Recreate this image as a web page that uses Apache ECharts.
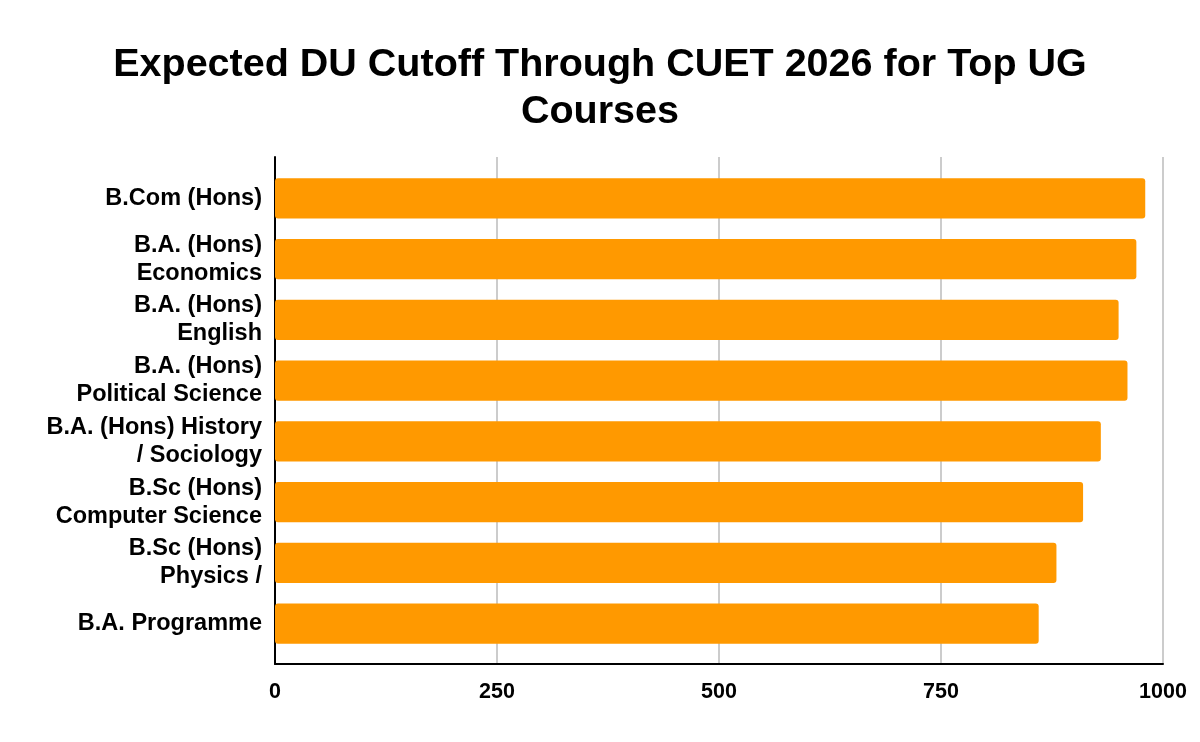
<!DOCTYPE html>
<html>
<head>
<meta charset="utf-8">
<script src="https://cdn.jsdelivr.net/npm/echarts@6/dist/echarts.min.js"></script>
<style>
  html, body { margin: 0; padding: 0; background: #fff; }
  #main { width: 1200px; height: 742px; }
</style>
</head>
<body>
<div id="main"></div>
<script>
// courses, top to bottom
const courses = [
  "B.Com (Hons)",
  "B.A. (Hons)\nEconomics",
  "B.A. (Hons)\nEnglish",
  "B.A. (Hons)\nPolitical Science",
  "B.A. (Hons) History\n/ Sociology",
  "B.Sc (Hons)\nComputer Science",
  "B.Sc (Hons)\nPhysics /",
  "B.A. Programme"
];
const cutoffs = [980, 970, 950, 960, 930, 910, 880, 860];
const xTicks = [0, 250, 500, 750, 1000];

const FONT = "Liberation Sans, Arial, sans-serif";

var chart = echarts.init(document.getElementById("main"));
var option = {
  backgroundColor: "#fff",
  animation: false,
  title: {
    text: "Expected DU Cutoff Through CUET 2026 for Top UG\nCourses",
    left: "center",
    top: 37,
    textStyle: {
      fontFamily: FONT,
      fontSize: 39.5,
      fontWeight: "bold",
      color: "#000",
      lineHeight: 47
    }
  },
  // grid 0: frame, gridlines and tick labels; grid 1: the bars, inset a little
  grid: [
    { left: 275, right: 37, top: 157, bottom: 78 },
    { left: 275, right: 37, top: 168, bottom: 88 }
  ],
  xAxis: [{
    type: "value",
    gridIndex: 0,
    min: 0,
    max: 1000,
    interval: 250,
    axisLine: { show: true, lineStyle: { color: "#000", width: 2 } },
    axisTick: { show: false },
    splitLine: { show: true, lineStyle: { color: "#ccc", width: 2 } },
    axisLabel: {
      margin: 17,
      color: "#000",
      fontFamily: FONT,
      fontSize: 21.5,
      fontWeight: "bold",
      formatter: function (v) { return xTicks.indexOf(v) >= 0 ? String(v) : ""; }
    }
  }, {
    type: "value",
    gridIndex: 1,
    min: 0,
    max: 1000,
    show: false
  }],
  yAxis: [{
    type: "value",
    gridIndex: 0,
    min: 0,
    max: 1,
    axisLine: { show: true, lineStyle: { color: "#000", width: 2 } },
    axisTick: { show: false },
    axisLabel: { show: false },
    splitLine: { show: false }
  }, {
    type: "category",
    gridIndex: 1,
    inverse: true,
    data: courses,
    axisLine: { show: false },
    axisTick: { show: false },
    axisLabel: {
      margin: 13,
      color: "#000",
      fontFamily: FONT,
      fontSize: 23.5,
      fontWeight: "bold",
      lineHeight: 28,
      align: "right"
    }
  }],
  series: [{
    type: "bar",
    xAxisIndex: 1,
    yAxisIndex: 1,
    data: cutoffs,
    barCategoryGap: "34%",
    itemStyle: { color: "#ff9900", borderRadius: 3 }
  }]
};
chart.setOption(option);
</script>
</body>
</html>
